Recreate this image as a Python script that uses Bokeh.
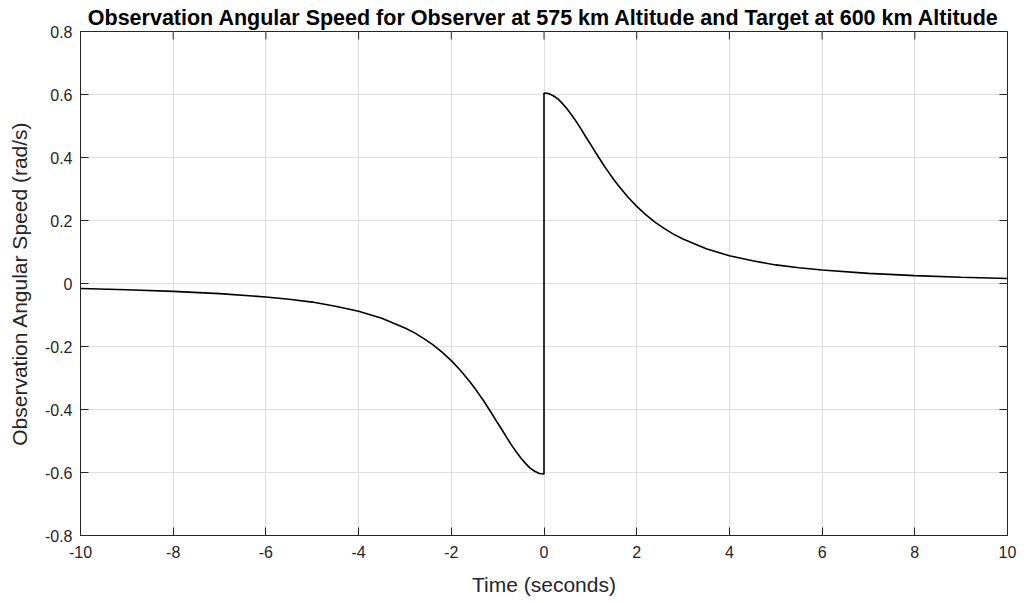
import math
from bokeh.plotting import figure
from bokeh.models import Range1d, FixedTicker, ColumnDataSource
from bokeh.embed import file_html
from bokeh.resources import INLINE

# Time (s) and observation angular speed (rad/s)
t_left = [-10, -9, -8, -7, -6, -5.5, -5, -4.5, -4, -3.5, -3, -2.8, -2.6, -2.4, -2.2,
          -2.0, -1.8, -1.6, -1.5, -1.4, -1.3, -1.2, -1.1, -1.0, -0.9, -0.8, -0.7,
          -0.6, -0.5, -0.4, -0.3, -0.2, -0.1, 0.0]
w_left = [-0.016, -0.020, -0.025, -0.032, -0.043, -0.050, -0.059, -0.072, -0.088,
          -0.110, -0.141, -0.156, -0.174, -0.194, -0.218, -0.245, -0.276, -0.312,
          -0.331, -0.352, -0.373, -0.396, -0.419, -0.443, -0.466, -0.490, -0.513,
          -0.534, -0.554, -0.571, -0.586, -0.596, -0.603, -0.605]
t_right = [0.0, 0.1, 0.2, 0.3, 0.4, 0.5, 0.6, 0.7, 0.8, 0.9, 1.0, 1.1, 1.2, 1.3, 1.4,
           1.5, 1.6, 1.8, 2.0, 2.2, 2.4, 2.6, 2.8, 3, 3.5, 4, 4.5, 5, 5.5, 6, 7, 8, 9, 10]
w_right = [0.605, 0.603, 0.596, 0.586, 0.571, 0.554, 0.534, 0.513, 0.490, 0.466,
           0.443, 0.419, 0.396, 0.373, 0.352, 0.331, 0.312, 0.276, 0.245, 0.218,
           0.194, 0.174, 0.156, 0.141, 0.110, 0.088, 0.072, 0.059, 0.050, 0.043,
           0.032, 0.025, 0.020, 0.016]

x_ticks = [-10, -8, -6, -4, -2, 0, 2, 4, 6, 8, 10]
x_tick_labels = ["-10", "-8", "-6", "-4", "-2", "0", "2", "4", "6", "8", "10"]
y_ticks = [-0.8, -0.6, -0.4, -0.2, 0, 0.2, 0.4, 0.6, 0.8]
y_tick_labels = ["-0.8", "-0.6", "-0.4", "-0.2", "0", "0.2", "0.4", "0.6", "0.8"]

title = "Observation Angular Speed for Observer at 575 km Altitude and Target at 600 km Altitude"
x_label = "Time (seconds)"
y_label = "Observation Angular Speed (rad/s)"

FONT = "Liberation Sans"
AX = "#262626"
X0, X1 = -10, 10
Y0, Y1 = -0.8, 0.8

p = figure(frame_width=927, frame_height=504, output_backend="svg",
           toolbar_location=None, x_range=Range1d(X0, X1), y_range=Range1d(Y0, Y1),
           min_border_left=80, min_border_right=20, min_border_top=31, min_border_bottom=68,
           title=title)
p.title.text_font = FONT
p.title.text_font_size = "21.5px"
p.title.text_font_style = "bold"
p.title.text_color = "#000000"
p.title.align = "center"
p.title.vertical_align = "top"
p.title.standoff = 0
p.title.offset = 0
p.outline_line_color = AX
p.background_fill_color = "white"
p.border_fill_color = "white"

p.xgrid.ticker = FixedTicker(ticks=x_ticks)
p.ygrid.ticker = FixedTicker(ticks=y_ticks)
p.grid.grid_line_color = "#dfdfdf"
p.grid.grid_line_width = 1

src = ColumnDataSource(dict(t=t_left + t_right, w=w_left + w_right))
p.line("t", "w", source=src, line_color="#000000", line_width=1.6)

# inward tick marks on the top and right edges of the box (half of each dash is clipped)
p.scatter(x=x_ticks, y=[Y1] * len(x_ticks), marker="dash", size=16,
          angle=math.pi / 2, line_color=AX, line_width=1)
p.scatter(x=[X1] * len(y_ticks), y=y_ticks, marker="dash", size=16,
          angle=0, line_color=AX, line_width=1)

x_lab = dict(zip(x_ticks, x_tick_labels))
y_lab = dict(zip(y_ticks, y_tick_labels))

for ax, lab in ((p.xaxis[0], x_lab), (p.yaxis[0], y_lab)):
    ax.ticker = FixedTicker(ticks=list(lab.keys()))
    ax.major_label_overrides = lab
    ax.major_tick_in = 8
    ax.major_tick_out = 0
    ax.minor_tick_line_color = None
    ax.axis_line_color = AX
    ax.major_tick_line_color = AX
    ax.major_label_text_font = FONT
    ax.major_label_text_font_size = "16px"
    ax.major_label_text_color = AX
    ax.axis_label_text_font = FONT
    ax.axis_label_text_font_size = "21px"
    ax.axis_label_text_font_style = "normal"
    ax.axis_label_text_color = AX
p.xaxis[0].axis_label = x_label
p.yaxis[0].axis_label = y_label
p.xaxis[0].major_label_standoff = 10
p.yaxis[0].major_label_standoff = 8
p.xaxis[0].axis_label_standoff = 12
p.yaxis[0].axis_label_standoff = 11

open("out.html", "w").write(file_html(p, INLINE))
